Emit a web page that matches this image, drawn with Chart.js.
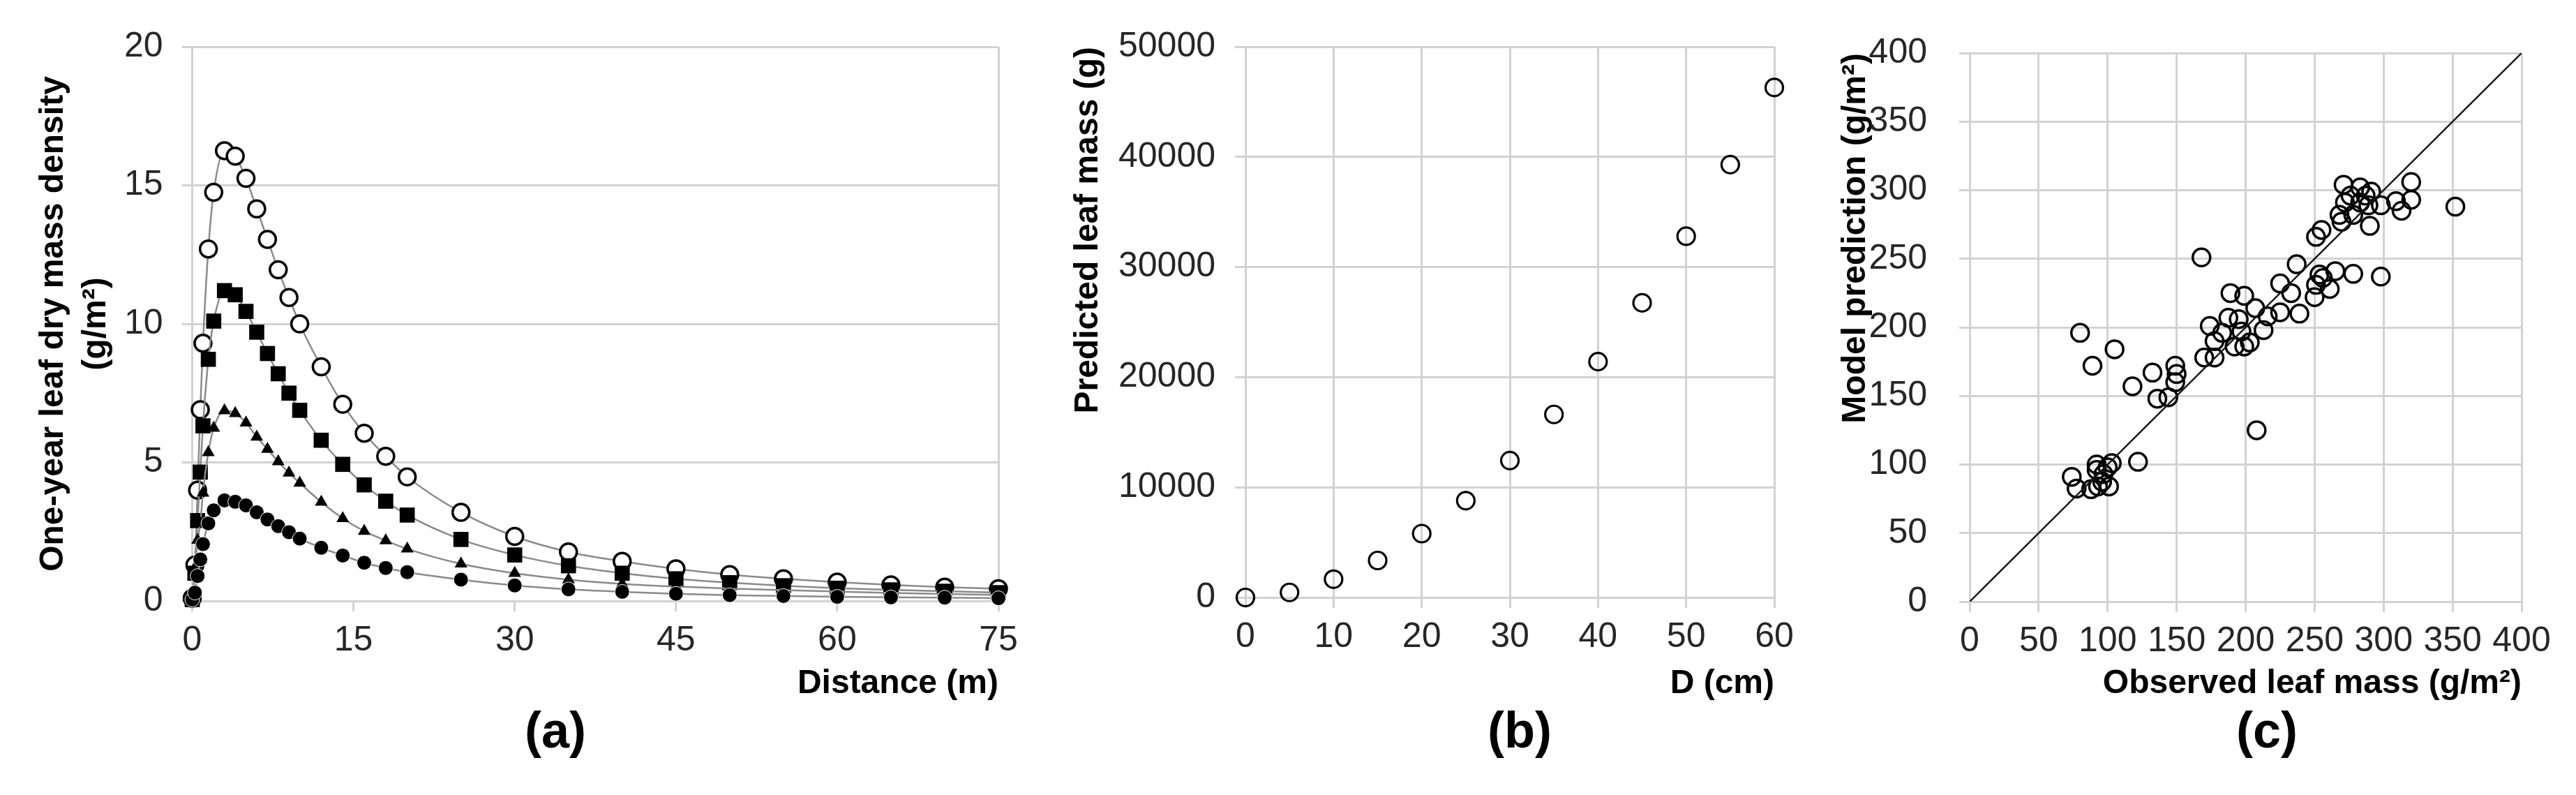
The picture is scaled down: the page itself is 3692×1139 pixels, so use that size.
<!DOCTYPE html>
<html lang="en">
<head>
  <meta charset="UTF-8" />
  <title>Leaf mass figure</title>
  <script src="https://cdn.jsdelivr.net/npm/chart.js"></script>
  <style>
    body {
      margin: 0;
      width: 3692px;
      height: 1139px;
      background: #fff;
      position: relative;
      overflow: hidden;
      font-family: 'Liberation Sans', Arial, sans-serif;
    }
    canvas {
      position: absolute;
      top: 0;
    }
    #chartA { left: 0; }
    #chartB { left: 1500px; }
    #chartC { left: 2600px; }
    .tag {
      position: absolute;
      top: 1010px;
      transform: translateX(-50%);
      font-size: 72px;
      font-weight: bold;
      color: #000;
      line-height: 1;
    }
  </style>
</head>
<body>

  <canvas id="chartA" width="1500" height="1139"></canvas>
  <canvas id="chartB" width="1100" height="1139"></canvas>
  <canvas id="chartC" width="1092" height="1139"></canvas>

  <div class="tag" style="left: 796px;">(a)</div>
  <div class="tag" style="left: 2178px;">(b)</div>
  <div class="tag" style="left: 3249px;">(c)</div>

  <script>
    // (a) leaf dry mass density vs distance, four trees
    const distance = [0, 0.25, 0.5, 0.75, 1, 1.5, 2, 3, 4, 5, 6, 7, 8, 9, 10, 12, 14, 16, 18, 20, 25, 30, 35, 40, 45, 50, 55, 60, 65, 70, 75];
    const openCircle = [0.1, 1.3, 4.0, 6.9, 9.3, 12.7, 14.75, 16.25, 16.05, 15.25, 14.15, 13.05, 11.95, 10.95, 10.0, 8.45, 7.1, 6.05, 5.22, 4.48, 3.2, 2.33, 1.77, 1.43, 1.16, 0.95, 0.8, 0.68, 0.58, 0.5, 0.44];
    const filledSquare = [0.05, 1.0, 2.9, 4.65, 6.32, 8.72, 10.1, 11.2, 11.05, 10.45, 9.7, 8.93, 8.2, 7.5, 6.88, 5.8, 4.93, 4.19, 3.6, 3.1, 2.22, 1.66, 1.27, 1.0, 0.8, 0.66, 0.55, 0.46, 0.4, 0.35, 0.3];
    const filledTriangle = [0.05, 1.2, 2.2, 2.8, 3.9, 5.36, 6.24, 6.87, 6.77, 6.43, 5.92, 5.48, 5.03, 4.62, 4.26, 3.57, 2.98, 2.52, 2.18, 1.88, 1.34, 1.0, 0.77, 0.62, 0.52, 0.45, 0.39, 0.34, 0.29, 0.25, 0.22];
    const filledCircle = [0.05, 0.3, 0.9, 1.5, 2.05, 2.8, 3.27, 3.63, 3.58, 3.45, 3.2, 2.94, 2.7, 2.48, 2.25, 1.92, 1.64, 1.38, 1.19, 1.04, 0.77, 0.56, 0.42, 0.33, 0.26, 0.21, 0.18, 0.15, 0.13, 0.12, 0.1];
    const xTicksA = [0, 15, 30, 45, 60, 75];
    const yTicksA = [0, 5, 10, 15, 20];

    // (b) predicted leaf mass vs stem diameter
    const diameter = [0, 5, 10, 15, 20, 25, 30, 35, 40, 45, 50, 55, 60];
    const predictedMass = [0, 460, 1660, 3360, 5800, 8790, 12430, 16620, 21410, 26750, 32800, 39300, 46300];
    const xTicksB = [0, 10, 20, 30, 40, 50, 60];
    const yTicksB = [0, 10000, 20000, 30000, 40000, 50000];

    // (c) observed vs modelled leaf mass
    const observed = [80, 105, 89, 118, 132.5, 149, 150, 149, 136, 144, 170, 177.5, 177.5, 174, 192, 199, 122, 74, 77.5, 88, 92, 92, 96, 101, 103, 100, 97, 93, 208,
      168, 189, 199, 187.5, 195, 207, 203, 183, 197,
      271, 283, 291, 320, 309, 320, 313, 298, 289, 283, 272, 268, 278, 269.5, 290, 255, 251, 352, 276, 287,
      237, 265, 278, 298, 251, 225, 233, 261, 250, 225, 239, 213, 256, 253.5, 216];
    const modelled = [196, 184, 172, 157, 167, 172, 166, 160, 148, 149, 178, 178, 190, 201, 186, 186, 102, 91, 82.5, 82, 100, 96, 87.5, 84, 101, 98, 93, 84, 125,
      251, 225, 223, 207, 206, 214, 189, 196, 197,
      304, 302, 299, 306, 292, 293, 285, 289, 289, 291, 291, 282, 282, 277, 274, 271, 266, 288, 296, 296,
      246, 241, 239, 237, 231, 232, 225, 228, 222, 211, 210, 198, 236, 238.5, 208];
    const oneToOne = [0, 400];
    const ticksC = [0, 50, 100, 150, 200, 250, 300, 350, 400];

    const FONT = "'Liberation Sans', Arial, sans-serif";
    const gridGray = '#d2d2d2';
    const tickText = '#262626';

    function makeScale(min, max, ticks, o) {
      return {
        type: 'linear',
        min: min,
        max: max,
        afterBuildTicks: s => { s.ticks = ticks.map(v => ({ value: v })); },
        afterFit: s => {
          if (o.width) s.width = o.width;
          if (o.height) s.height = o.height;
        },
        ticks: {
          color: tickText,
          font: { family: FONT, size: 50 },
          padding: o.pad,
          autoSkip: false,
          maxRotation: 0,
          callback: v => String(v)
        },
        grid: {
          color: o.gridColor || gridGray,
          lineWidth: 3,
          tickLength: 15,
          tickColor: gridGray
        },
        border: { color: gridGray, width: 3 },
        title: {
          display: true,
          text: o.title,
          align: o.align || 'center',
          color: '#000',
          font: { family: FONT, size: 48, weight: 'bold', lineHeight: o.lh || 1.2 },
          padding: o.titlePad
        }
      };
    }

    const common = {
      responsive: false,
      animation: false,
      events: [],
      plugins: { legend: { display: false }, tooltip: { enabled: false } }
    };

    const pts = (xs, ys) => xs.map((x, i) => ({ x: x, y: ys[i] }));

    // Panel (a)
    const lineGray = '#8a8a8a';
    function seriesA(values, style) {
      return Object.assign({
        data: pts(distance, values),
        showLine: true,
        borderColor: lineGray,
        borderWidth: 2.5,
        cubicInterpolationMode: 'monotone',
        clip: false
      }, style);
    }

    new Chart(document.getElementById('chartA'), {
      type: 'scatter',
      data: {
        datasets: [
          seriesA(filledCircle, { pointStyle: 'circle', pointRadius: 10.5, pointBackgroundColor: '#000', pointBorderColor: '#fff', pointBorderWidth: 1 }),
          seriesA(filledTriangle, { pointStyle: 'triangle', pointRadius: 10.5, pointBackgroundColor: '#000', pointBorderColor: '#000', pointBorderWidth: 0 }),
          seriesA(filledSquare, { pointStyle: 'rect', pointRadius: 15.3, pointBackgroundColor: '#000', pointBorderColor: '#000', pointBorderWidth: 0 }),
          seriesA(openCircle, { pointStyle: 'circle', pointRadius: 12, pointBackgroundColor: '#fff', pointBorderColor: '#000', pointBorderWidth: 3.5 })
        ]
      },
      options: Object.assign({}, common, {
        layout: { padding: { top: 67, right: 69, bottom: 0, left: 0 } },
        scales: {
          x: makeScale(0, 75, xTicksA, {
            height: 278, pad: 12, title: 'Distance (m)', align: 'end',
            titlePad: { top: 0, bottom: 130 },
            gridColor: ctx => (ctx.tick && ctx.tick.value === 75 ? gridGray : 'rgba(0,0,0,0)')
          }),
          y: makeScale(0, 20, yTicksA, {
            width: 275.5, pad: 27, title: ['One-year leaf dry mass density', '(g/m²)'],
            lh: 1.27, titlePad: { top: 46, bottom: 0 }
          })
        }
      })
    });

    // Panel (b)
    new Chart(document.getElementById('chartB'), {
      type: 'scatter',
      data: {
        datasets: [{
          data: pts(diameter, predictedMass),
          pointStyle: 'circle',
          pointRadius: 12.5,
          pointBackgroundColor: 'rgba(255,255,255,0)',
          pointBorderColor: '#000',
          pointBorderWidth: 3.2,
          clip: false
        }]
      },
      options: Object.assign({}, common, {
        layout: { padding: { top: 67, right: 57, bottom: 0, left: 0 } },
        scales: {
          x: makeScale(0, 60, xTicksB, {
            height: 283, pad: 12, title: 'D (cm)', align: 'end',
            titlePad: { top: 0, bottom: 130 }
          }),
          y: makeScale(0, 50000, yTicksB, {
            width: 285, pad: 28, title: 'Predicted leaf mass (g)', align: 'end',
            titlePad: { top: 31, bottom: 0 }
          })
        }
      })
    });

    // Panel (c)
    new Chart(document.getElementById('chartC'), {
      type: 'scatter',
      data: {
        datasets: [
          {
            data: pts(oneToOne, oneToOne),
            showLine: true,
            borderColor: '#1a1a1a',
            borderWidth: 2.5,
            pointRadius: 0,
            order: 0
          },
          {
            data: pts(observed, modelled),
            pointStyle: 'circle',
            pointRadius: 12.5,
            pointBackgroundColor: 'rgba(255,255,255,0)',
            pointBorderColor: '#000',
            pointBorderWidth: 3.5,
            clip: false,
            order: 1
          }
        ]
      },
      options: Object.assign({}, common, {
        layout: { padding: { top: 67, right: 78, bottom: 0, left: 0 } },
        scales: {
          x: makeScale(0, 400, ticksC, {
            height: 277, pad: 12, title: 'Observed leaf mass (g/m²)', align: 'end',
            titlePad: { top: 0, bottom: 130 }
          }),
          y: makeScale(0, 400, ticksC, {
            width: 223, pad: 46, title: 'Model prediction (g/m²)', align: 'end',
            titlePad: { top: 31, bottom: 0 }
          })
        }
      })
    });
  </script>

</body>
</html>
